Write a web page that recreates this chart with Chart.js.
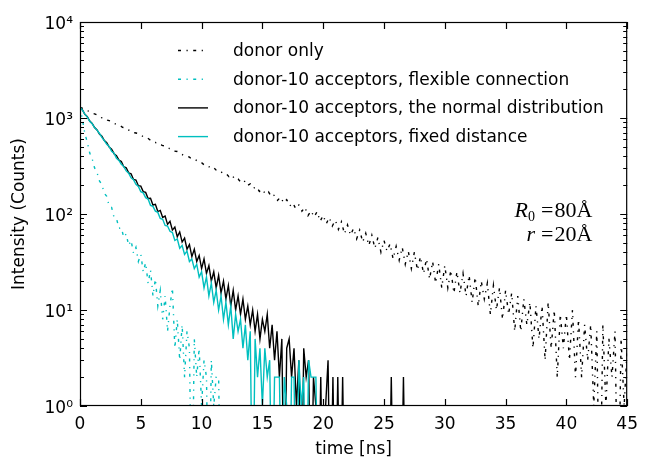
<!DOCTYPE html>
<html>
<head>
<meta charset="utf-8">
<script src="https://cdn.jsdelivr.net/npm/chart.js@4.4.1/dist/chart.umd.min.js"></script>
<style>
  html, body { margin: 0; padding: 0; background: #fff; }
</style>
</head>
<body>
<canvas id="decay-chart" width="646" height="461"></canvas>
<script>
// time axis ticks and intensity decades
const xTicks = [0, 5, 10, 15, 20, 25, 30, 35, 40, 45];
const yTicks = [1, 10, 100, 1000, 10000];
const yTickLabels = ["10⁰", "10¹", "10²", "10³", "10⁴"];

const labels = [
  "donor only",
  "donor-10 acceptors, flexible connection",
  "donor-10 acceptors, the normal distribution",
  "donor-10 acceptors, fixed distance",
];

// counts per channel (0 = empty channel)
const donorStep = 0.25;
const donorOnly = [
  1290, 1258, 1197, 1176, 1121, 1098, 1062, 1009, 998, 948, 931, 884,
  857, 841, 799, 789, 749, 739, 701, 692, 668, 631, 626, 593,
  584, 553, 549, 519, 511, 483, 479, 452, 448, 431, 409, 406,
  391, 369, 368, 347, 342, 322, 321, 299, 304, 282, 283, 265,
  264, 245, 256, 228, 231, 213, 223, 197, 206, 185, 193, 172,
  181, 161, 170, 150, 158, 139, 150, 130, 141, 121, 131, 113,
  124, 107, 118, 96, 108, 93, 106, 84, 97, 79, 92, 75,
  86, 69, 83, 62, 77, 60, 71, 55, 68, 51, 63, 47,
  60, 44, 57, 40, 53, 41, 49, 34, 46, 33, 45, 30,
  41, 27, 40, 26, 36, 24, 34, 21, 32, 19, 30, 17,
  29, 17, 26, 15, 25, 15, 24, 14, 23, 12, 22, 11,
  20, 13, 19, 9, 18, 10, 17, 8, 16, 9, 15, 6,
  14, 6, 13, 7, 12, 4, 11, 5, 11, 3, 12, 4,
  10, 2, 9, 4, 9, 3, 10, 2, 8, 2, 7, 3,
  7, 1, 6, 0, 7, 1, 5, 2, 6, 0, 5, 1,
  4
];

const accStep = 0.2;
const flexible = [
  1300, 962, 688, 561, 431, 377, 302, 271, 221, 203,
  164, 153, 121, 117, 92, 90, 71, 72, 57, 62,
  47, 53, 39, 45, 32, 38, 25, 31, 19, 26,
  14, 21, 11, 16, 8, 14, 6, 11, 17, 4,
  8, 3, 7, 2, 6, 4, 0, 5, 2, 4,
  1, 3, 2, 0, 3, 1, 2, 2, 0, 0
];

const normalDist = [
  1300, 1214, 1092, 1035, 931, 878, 796, 752, 681, 645,
  583, 552, 497, 474, 425, 405, 365, 352, 311, 303,
  268, 262, 229, 226, 197, 195, 171, 168, 145, 146,
  124, 126, 106, 109, 92, 95, 78, 84, 68, 73,
  58, 65, 51, 56, 43, 48, 36, 43, 32, 37,
  27, 34, 24, 29, 20, 25, 17, 23, 15, 20,
  13, 18, 11, 16, 10, 14, 9, 13, 8, 11,
  7, 10, 6, 9, 5, 8, 6, 9, 4, 7,
  3, 6, 2, 5, 0, 4, 5, 2, 4, 1,
  3, 0, 4, 2, 3, 0, 2, 1, 0, 2,
  0, 1, 3, 0, 2, 0, 2, 0, 2, 0,
  0, 0, 0, 0, 0, 0, 0, 0, 0, 0,
  0, 0, 0, 0, 0, 1, 0, 0, 2, 0,
  0, 0, 0, 2, 0, 0
];

const fixedDist = [
  1300, 1205, 1098, 1022, 925, 872, 790, 748, 690, 628,
  581, 532, 505, 451, 431, 380, 362, 330, 312, 281,
  266, 238, 228, 204, 194, 171, 166, 148, 143, 123,
  120, 107, 104, 90, 88, 76, 75, 66, 64, 53,
  55, 44, 47, 38, 41, 32, 34, 27, 30, 22,
  25, 17, 22, 14, 19, 12, 16, 10, 14, 8,
  12, 7, 11, 5, 9, 6, 8, 4, 7, 3,
  6, 0, 5, 2, 4, 1, 4, 2, 3, 0,
  2, 2, 2, 0, 2, 1, 0, 2, 2, 0,
  3, 1, 2, 0, 3, 2, 2, 2, 0, 0,
  0
];

const CYAN = "#00bfbf";
const FONT = "'DejaVu Sans', sans-serif";
const DASHDOT = [3, 5.5, 1.2, 5.5];

// empty channels fall off the bottom of the log axis, like the original
const toPoints = (vals, step) =>
  vals.map((v, i) => ({ x: Math.round(i * step * 100) / 100, y: v > 0 ? v : 0.05 }));

const frame = {
  id: "frame",
  afterDatasetsDraw(chart) {
    const { ctx, chartArea: a, scales: { x, y } } = chart;
    ctx.save();
    ctx.strokeStyle = "#000";
    ctx.lineWidth = 1.2;
    ctx.strokeRect(a.left + 0.5, a.top + 0.5, a.right - a.left - 1, a.bottom - a.top - 1);
    ctx.beginPath();
    xTicks.forEach((v) => {
      const px = Math.round(x.getPixelForValue(v)) + 0.5;
      ctx.moveTo(px, a.bottom); ctx.lineTo(px, a.bottom - 7);
      ctx.moveTo(px, a.top); ctx.lineTo(px, a.top + 7);
    });
    yTicks.forEach((d, k) => {
      for (let m = 1; m <= 9; m++) {
        const v = d * m;
        if (v > 10000 || (k === yTicks.length - 1 && m > 1)) continue;
        const py = Math.round(y.getPixelForValue(v)) + 0.5;
        const len = m === 1 ? 7 : 4;
        ctx.moveTo(a.left, py); ctx.lineTo(a.left + len, py);
        ctx.moveTo(a.right, py); ctx.lineTo(a.right - len, py);
      }
    });
    ctx.stroke();

    // legend, top left inside the axes
    const rows = [50.5, 79.2, 107.9, 136.6];
    ctx.font = "17px " + FONT;
    ctx.textBaseline = "middle";
    ctx.fillStyle = "#000";
    chart.data.datasets.forEach((ds) => {
      const yy = rows[ds.legendRow];
      ctx.save();
      ctx.strokeStyle = ds.borderColor;
      ctx.lineWidth = ds.borderWidth;
      ctx.setLineDash(ds.borderDash || []);
      ctx.beginPath();
      ctx.moveTo(178, yy); ctx.lineTo(208, yy);
      ctx.stroke();
      ctx.restore();
      ctx.fillText(ds.label, 233, yy + 1);
    });

    // R0 and r annotation
    ctx.textBaseline = "alphabetic";
    const serif = "'Liberation Serif', 'DejaVu Serif', serif";
    const eqX = 541;
    ctx.font = "22px " + serif;
    const eqW = ctx.measureText("=").width;
    ctx.fillText("=", eqX, 217);
    ctx.fillText("80Å", eqX + eqW + 1, 217);
    ctx.fillText("=", eqX, 241);
    ctx.fillText("20Å", eqX + eqW + 1, 241);
    ctx.font = "14px " + serif;
    const subW = ctx.measureText("0").width;
    ctx.fillText("0", 535 - subW, 221);
    ctx.font = "italic 22px " + serif;
    const rW = ctx.measureText("R").width;
    ctx.fillText("R", 535 - subW - rW, 217);
    const r2W = ctx.measureText("r").width;
    ctx.fillText("r", 535 - r2W, 241);
    ctx.restore();
  },
};

Chart.defaults.color = "#000";
Chart.defaults.font.family = FONT;

new Chart(document.getElementById("decay-chart"), {
  type: "line",
  data: {
    datasets: [
      {
        label: labels[3], legendRow: 3, order: 0,
        data: toPoints(fixedDist, accStep),
        borderColor: CYAN, borderWidth: 1.4,
      },
      {
        label: labels[2], legendRow: 2, order: 1,
        data: toPoints(normalDist, accStep),
        borderColor: "#000", borderWidth: 1.4,
      },
      {
        label: labels[1], legendRow: 1, order: 2,
        data: toPoints(flexible, accStep),
        borderColor: CYAN, borderWidth: 1.4, borderDash: DASHDOT,
      },
      {
        label: labels[0], legendRow: 0, order: 3,
        data: toPoints(donorOnly, donorStep),
        borderColor: "#000", borderWidth: 1.4, borderDash: DASHDOT,
      },
    ],
  },
  options: {
    responsive: false,
    animation: false,
    layout: { padding: { top: 22, right: 11, left: 0, bottom: 0 } },
    elements: { point: { radius: 0 }, line: { tension: 0, fill: false } },
    plugins: { legend: { display: false }, tooltip: { enabled: false } },
    scales: {
      x: {
        type: "linear", min: 0, max: 45,
        grid: { display: false, drawTicks: false },
        border: { display: false },
        ticks: { stepSize: 5, padding: 8, font: { size: 17 } },
        afterBuildTicks: (s) => { s.ticks = xTicks.map((v) => ({ value: v })); },
        afterFit: (s) => { s.height = 55; },
        title: { display: true, text: "time [ns]", font: { size: 17 }, padding: { top: 0, bottom: 1 } },
      },
      y: {
        type: "logarithmic", min: 1, max: 10000,
        grid: { display: false, drawTicks: false },
        border: { display: false },
        ticks: {
          padding: 7, labelOffset: 3, font: { size: 17 },
          callback: (v) => yTickLabels[yTicks.indexOf(v)] ?? "",
        },
        afterBuildTicks: (s) => { s.ticks = yTicks.map((v) => ({ value: v })); },
        afterFit: (s) => { s.width = 80; },
        title: { display: true, text: "Intensity (Counts)", font: { size: 17 }, padding: { top: 9, bottom: 0 } },
      },
    },
  },
  plugins: [frame],
});
</script>
</body>
</html>
